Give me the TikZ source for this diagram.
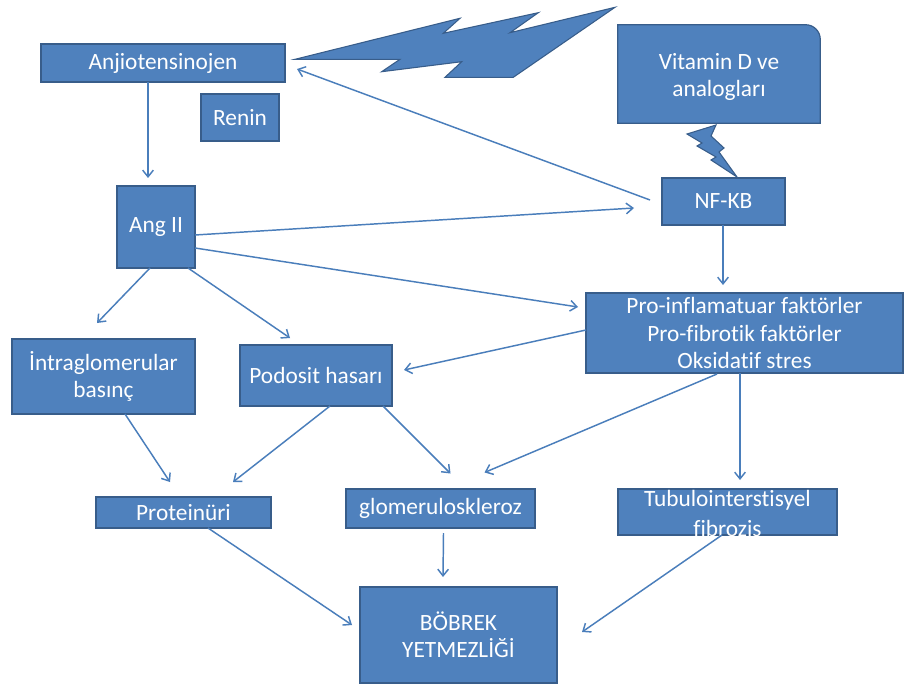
\documentclass[tikz,border=0pt]{standalone}
\usepackage{fontspec}
\setmainfont[Ligatures={NoCommon}]{Carlito}
\usetikzlibrary{arrows.meta}
\definecolor{boxfill}{HTML}{4F81BD}
\definecolor{boxline}{HTML}{385D8A}
\definecolor{arr}{HTML}{4A7EBB}
\begin{document}
\begin{tikzpicture}[x=0.75pt,y=-0.75pt,
  box/.style={fill=boxfill,draw=boxline,line width=0.9pt,inner sep=0pt,text=white,align=center,font=\fontsize{17.5}{20.5}\selectfont},
  txt/.style={inner sep=0pt,text=white,align=center,font=\fontsize{17.5}{20.5}\selectfont},
  conn/.style={draw=arr,line width=1.1pt,-{Straight Barb[length=5pt,width=8pt]}},
  bolt/.style={fill=boxfill,draw=boxline,line width=0.8pt,line join=miter}]
\useasboundingbox (0,0) rectangle (905,684);
\fill[white] (0,0) rectangle (905,684);

% lightning bolts
\filldraw[bolt] (295,59.3) -- (460,18.3) -- (443.3,33.3) -- (538.3,12.7) -- (510,32.7) -- (615,7.3)
  -- (513.3,77.3) -- (445,77.3) -- (461.7,61.7) -- (381.7,71.7) -- (400,59.3) -- cycle;
\filldraw[bolt] (687,134) -- (716,125) -- (711,136) -- (724,148) -- (719,152) -- (737,177)
  -- (711,160) -- (716,157) -- (697,146) -- (702,143) -- cycle;

% boxes
\node[box,minimum width=183pt,minimum height=28.5pt] (anj) at (163,63) {Anjiotensinojen};
\node[box,minimum width=58.5pt,minimum height=35.25pt] (renin) at (240,117.5) {Renin};
\node[txt,minimum width=151.5pt,minimum height=73.5pt] (vitd) at (719,74) {};
\filldraw[fill=boxfill,draw=boxline,line width=0.9pt] (vitd.south west) -- (vitd.north west)
  -- ([xshift=-11pt]vitd.north east) arc[start angle=90,end angle=0,radius=11pt]
  -- (vitd.south east) -- cycle;
\node[txt] (vitdtxt) at ([yshift=-2pt]vitd.center) {Vitamin D ve\\analogları};
\node[box,minimum width=92.25pt,minimum height=35.25pt] (nfkb) at (723.5,201.5) {NF-KB};
\node[box,minimum width=58.5pt,minimum height=61.5pt] (ang) at (156,227) {Ang II};
\node[box,minimum width=237.75pt,minimum height=60pt] (pro) at (744.5,333) {Pro-inflamatuar faktörler\\Pro-fibrotik faktörler\\Oksidatif stres};
\node[box,minimum width=137.25pt,minimum height=56.25pt] (intra) at (103.5,376.5) {İntraglomerular\\basınç};
\node[box,minimum width=114pt,minimum height=45.75pt] (podo) at (316,375.5) {Podosit hasarı};
\node[box,minimum width=131.25pt,minimum height=23.25pt] (prot) at (183.5,512.5) {Proteinüri};
\node[box,minimum width=141.75pt,minimum height=29.25pt] (glom) at (440.5,508.5) {glomeruloskleroz};
\node[box,minimum width=164.25pt,minimum height=34.5pt] (tubu) at (727.5,512) {};
\node[txt,font=\fontsize{17.5}{22}\selectfont] (tubutxt) at ([yshift=-1pt]tubu.center) {Tubulointerstisyel\\fibrozis};
\node[box,minimum width=147.75pt,minimum height=72pt] (bob) at (458.5,635) {BÖBREK\\YETMEZLİĞİ};

% connectors
\draw[conn] ([shift={(-15,19)}]anj.center) -- ([shift={(-8,-49)}]ang.center);
\draw[conn] ([shift={(-73.5,-1.5)}]nfkb.center) -- ([shift={(134,6)}]anj.center);
\draw[conn] ([shift={(39,8)}]ang.center) -- ([shift={(-89.5,6.5)}]nfkb.center);
\draw[conn] ([shift={(39,21)}]ang.center) -- ([shift={(-166.5,-26)}]pro.center);
\draw[conn] ([shift={(-0.5,23.5)}]nfkb.center) -- ([shift={(-21.5,-48)}]pro.center);
\draw[conn] ([shift={(-6,41)}]ang.center) -- ([shift={(-6.5,-53.5)}]intra.center);
\draw[conn] ([shift={(32,41)}]ang.center) -- ([shift={(-26,-37.5)}]podo.center);
\draw[conn] ([shift={(-158.5,-3)}]pro.center) -- ([shift={(88,-5.5)}]podo.center);
\draw[conn] ([shift={(21.5,37.5)}]intra.center) -- ([shift={(-13.5,-30.5)}]prot.center);
\draw[conn] ([shift={(14,30.5)}]podo.center) -- ([shift={(49.5,-30.5)}]prot.center);
\draw[conn] ([shift={(67,30.5)}]podo.center) -- ([shift={(10,-35)}]glom.center);
\draw[conn] ([shift={(-27.5,41)}]pro.center) -- ([shift={(44,-36)}]glom.center);
\draw[conn] ([shift={(-4.5,40)}]pro.center) -- ([shift={(12.5,-32)}]tubu.center);
\draw[conn] ([shift={(24.5,15.5)}]prot.center) -- ([shift={(-106.5,-10)}]bob.center);
\draw[conn] ([shift={(3,24.5)}]glom.center) -- ([shift={(-15.5,-58)}]bob.center);
\draw[conn] ([shift={(-5.5,23)}]tubu.center) -- ([shift={(123.5,-3)}]bob.center);
\end{tikzpicture}
\end{document}
